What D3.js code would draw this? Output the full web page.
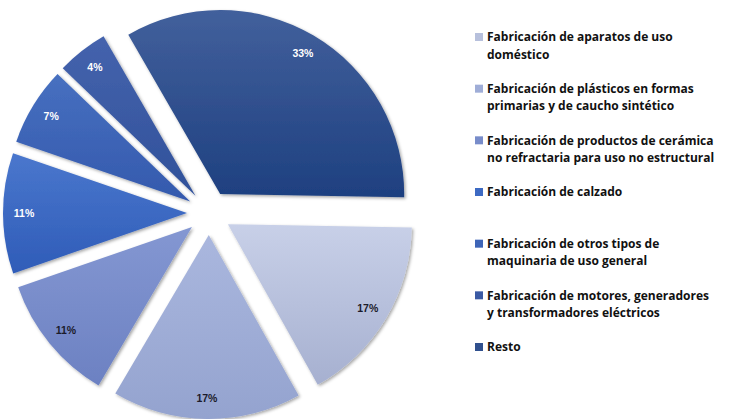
<!DOCTYPE html>
<html>
<head>
<meta charset="utf-8">
<script src="https://cdn.jsdelivr.net/npm/d3@7"></script>
<style>
  html, body { margin: 0; padding: 0; background: #fff; }
  svg { display: block; }
</style>
</head>
<body>
<svg id="chart"></svg>
<script>
'use strict';

const WIDTH = 730;
const HEIGHT = 419;
const RADIUS = 184;
const EXPLODE = 22;
const LABEL_R = 163;
const START = 91 * Math.PI / 180;

// data
const categories = [
    ["Fabricación de aparatos de uso", "doméstico"],
    ["Fabricación de plásticos en formas", "primarias y de caucho sintético"],
    ["Fabricación de productos de cerámica", "no refractaria para uso no estructural"],
    ["Fabricación de calzado"],
    ["Fabricación de otros tipos de", "maquinaria de uso general"],
    ["Fabricación de motores, generadores", "y transformadores eléctricos"],
    ["Resto"]
];
const values = [16.6, 16.6, 11.2, 10.6, 6.9, 4.5, 33.6];
const percentLabels = ["17%", "17%", "11%", "11%", "7%", "4%", "33%"];
const topColors = ["#c8d0e8", "#aab7de", "#8497d2", "#4a77cd", "#4770c0", "#4563ad", "#42609c"];
const bottomColors = ["#a6b0d0", "#94a3cf", "#6c81c2", "#2f5cb8", "#3459ad", "#30519a", "#1e4080"];
const labelColors = ["#1b1b2b", "#1b1b2b", "#1b1b2b", "#fff", "#fff", "#fff", "#fff"];

const svg = d3.select("svg#chart")
              .attr("width", WIDTH)
              .attr("height", HEIGHT);

const defs = svg.append("defs");

const shadow = defs.append("filter")
                   .attr("id", "shadow")
                   .attr("x", "-10%").attr("y", "-10%")
                   .attr("width", "130%").attr("height", "130%");
shadow.append("feDropShadow")
      .attr("dx", 1.5).attr("dy", 1.5)
      .attr("stdDeviation", 1.5)
      .attr("flood-color", "#000")
      .attr("flood-opacity", 0.35);

values.forEach((v, i) => {
    const g = defs.append("linearGradient")
                  .attr("id", "grad" + i)
                  .attr("x1", 0).attr("y1", 0)
                  .attr("x2", 0).attr("y2", 1);
    g.append("stop").attr("offset", "0%").attr("stop-color", topColors[i]);
    g.append("stop").attr("offset", "100%").attr("stop-color", bottomColors[i]);
});

const pie = d3.pie()
              .sort(null)
              .startAngle(START)
              .endAngle(START + 2 * Math.PI);

const arc = d3.arc()
              .innerRadius(0)
              .outerRadius(RADIUS);

const arcs = pie(values);

const pieG = svg.append("g")
                .attr("transform", "translate(" + 209 + "," + 213 + ")");

const slices = pieG.selectAll("g.slice")
                   .data(arcs)
                   .enter()
                   .append("g")
                   .attr("class", "slice")
                   .attr("transform", d => {
                       const mid = (d.startAngle + d.endAngle) / 2;
                       return "translate(" + EXPLODE * Math.sin(mid) + "," + (-EXPLODE * Math.cos(mid)) + ")";
                   });

slices.append("path")
      .attr("d", arc)
      .attr("fill", (d, i) => "url(#grad" + i + ")")
      .attr("filter", "url(#shadow)");

slices.append("text")
      .attr("x", d => LABEL_R * Math.sin((d.startAngle + d.endAngle) / 2))
      .attr("y", d => -LABEL_R * Math.cos((d.startAngle + d.endAngle) / 2))
      .attr("dy", "0.35em")
      .attr("text-anchor", "middle")
      .attr("font-family", "'Liberation Sans', Arial, sans-serif")
      .attr("font-weight", "bold")
      .attr("font-size", 10.5)
      .attr("fill", (d, i) => labelColors[i])
      .text((d, i) => percentLabels[i]);

// legend
const legendY = d3.scaleLinear()
                  .domain([0, categories.length - 1])
                  .range([37, 347]);

const legend = svg.append("g")
                  .selectAll("g")
                  .data(categories)
                  .enter()
                  .append("g")
                  .attr("transform", (d, i) => "translate(" + 475 + "," + legendY(i) + ")");

legend.append("rect")
      .attr("x", 0)
      .attr("y", -4)
      .attr("width", 8)
      .attr("height", 8)
      .attr("fill", (d, i) => d3.interpolateRgb(topColors[i], bottomColors[i])(0.5));

legend.append("text")
      .attr("font-family", "'Open Sans', sans-serif")
      .attr("font-weight", "bold")
      .attr("font-size", 12)
      .attr("fill", "#111")
      .selectAll("tspan")
      .data(d => d)
      .enter()
      .append("tspan")
      .attr("x", 12)
      .attr("y", (d, j) => j * 17.5)
      .attr("dy", "0.35em")
      .text(d => d);
</script>
</body>
</html>
